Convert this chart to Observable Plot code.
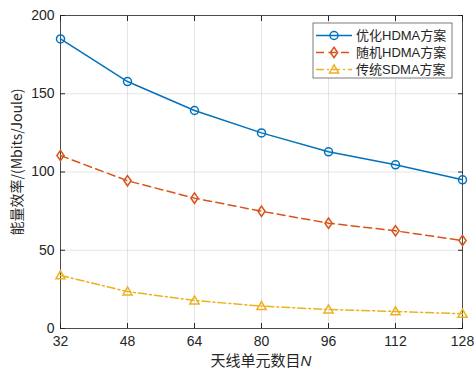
<!DOCTYPE html>
<html><head><meta charset="utf-8">
<script src="https://cdn.jsdelivr.net/npm/d3@7"></script>
<script src="https://cdn.jsdelivr.net/npm/@observablehq/plot@0.6"></script>
<style>
body{margin:0;background:#fff;}
#chart svg{display:block;}
</style>
</head><body><div id="chart"></div>
<script>
const antennas = [32, 48, 64, 80, 96, 112, 128];
const optimizedHDMA = [185, 157.8, 139.3, 125, 112.9, 104.6, 95];
const randomHDMA = [110.5, 94.4, 83.3, 74.9, 67.3, 62.4, 56.2];
const traditionalSDMA = [33.9, 23.6, 17.9, 14.3, 12.1, 10.9, 9.4];
const seriesNames = ["优化HDMA方案", "随机HDMA方案", "传统SDMA方案"];
const seriesColors = ["#0072BD", "#D95319", "#EDB120"];
const xTicks = [32, 48, 64, 80, 96, 112, 128];
const yTicks = [0, 50, 100, 150, 200];
const xLabel = "天线单元数目";
const xLabelVar = "N";
const yLabel = "能量效率/(Mbits/Joule)";

const fontLatin = "'Liberation Sans', Arial, 'Noto Sans CJK SC', sans-serif";

const tallDiamond = {draw(ctx, size){const r=Math.sqrt(size/Math.PI);ctx.moveTo(0,-r*1.3);ctx.lineTo(r*0.9,0);ctx.lineTo(0,r*1.3);ctx.lineTo(-r*0.9,0);ctx.closePath();}};
const triUp = {draw(ctx, size){const r=Math.sqrt(size/Math.PI);ctx.moveTo(0,-r*1.15);ctx.lineTo(r*1.15,r*0.85);ctx.lineTo(-r*1.15,r*0.85);ctx.closePath();}};
const ring = {draw(ctx, size){const r=Math.sqrt(size/Math.PI);ctx.moveTo(r,0);ctx.arc(0,0,r,0,2*Math.PI);}};
const symbols = [ring, tallDiamond, triUp];
const dashes = ["none", "8,4.5", "8,3,2,3"];

const seriesValues = [optimizedHDMA, randomHDMA, traditionalSDMA];
const data = [];
seriesValues.forEach((vals, s) => vals.forEach((v, i) => data.push({s, n: antennas[i], v})));

const lineMarks = [];
seriesValues.forEach((vals, s) => {
  const d = data.filter(r => r.s === s);
  lineMarks.push(Plot.line(d, {x: "n", y: "v", stroke: seriesColors[s], strokeWidth: 1.5, strokeDasharray: dashes[s]}));
  lineMarks.push(Plot.dot(d, {x: "n", y: "v", stroke: seriesColors[s], strokeWidth: 1.5, fill: "none", r: 4, symbol: symbols[s]}));
});

const axisColor = "#262626";
const plot = Plot.plot({
  width: 474, height: 374,
  marginLeft: 60, marginRight: 12, marginTop: 15, marginBottom: 46,
  style: {fontFamily: fontLatin, fontSize: "14px", color: axisColor, background: "#fff"},
  x: {domain: [32, 128]},
  y: {domain: [0, 200]},
  marks: [
    Plot.ruleX(xTicks, {stroke: "#000", strokeOpacity: 0.1}),
    Plot.ruleY(yTicks, {stroke: "#000", strokeOpacity: 0.1}),
    Plot.axisX(xTicks, {anchor: "bottom", tickSize: -5, tickFormat: () => "", label: null, stroke: axisColor}),
    Plot.axisX(xTicks, {anchor: "top", tickSize: -5, tickFormat: () => "", label: null, stroke: axisColor}),
    Plot.axisY(yTicks, {anchor: "left", tickSize: -5, tickFormat: () => "", label: null, stroke: axisColor}),
    Plot.axisY(yTicks, {anchor: "right", tickSize: -5, tickFormat: () => "", label: null, stroke: axisColor}),
    Plot.axisX(xTicks, {anchor: "bottom", tickSize: 0, tickPadding: 8, label: null, fill: axisColor, fontSize: 14}),
    Plot.axisY(yTicks, {anchor: "left", tickSize: 0, tickPadding: 6, label: null, fill: axisColor, fontSize: 14}),
    Plot.frame({stroke: axisColor, strokeWidth: 0.8}),
    ...lineMarks
  ]
});
document.getElementById("chart").append(plot);

const svg = d3.select(plot);
// x label
const xl = svg.append("text").attr("x", 261).attr("y", 366).attr("text-anchor", "middle")
  .attr("fill", axisColor).style("font-family", "'Noto Sans CJK SC', sans-serif").style("font-size", "15px");
xl.append("tspan").text(xLabel);
xl.append("tspan").text(xLabelVar).style("font-style", "italic").style("font-family", fontLatin);
// y label
svg.append("text").attr("transform", "translate(22,162) rotate(-90)").attr("text-anchor", "middle")
  .attr("fill", axisColor).style("font-family", "'Noto Sans CJK SC', 'Liberation Sans', sans-serif").style("font-size", "14px")
  .text(yLabel);

// legend
const lg = svg.append("g");
lg.append("rect").attr("x", 313).attr("y", 23).attr("width", 139).attr("height", 55)
  .attr("fill", "#fff").attr("stroke", axisColor).attr("stroke-width", 0.6);
const rowY = [35.5, 52.5, 69.5];
seriesNames.forEach((name, s) => {
  const y = rowY[s];
  lg.append("line").attr("x1", 316).attr("x2", 352).attr("y1", y).attr("y2", y)
    .attr("stroke", seriesColors[s]).attr("stroke-width", 1.5).attr("stroke-dasharray", dashes[s]);
  const sym = d3.symbol().type(symbols[s]).size(Math.PI * 16);
  lg.append("path").attr("d", sym()).attr("transform", `translate(334,${y})`)
    .attr("fill", "none").attr("stroke", seriesColors[s]).attr("stroke-width", 1.5);
  lg.append("text").attr("x", 356).attr("y", y).attr("dy", "0.35em").attr("fill", axisColor)
    .attr("text-anchor", "start")
    .style("font-family", fontLatin).style("font-size", "13px").text(name);
});
</script>
</body></html>
